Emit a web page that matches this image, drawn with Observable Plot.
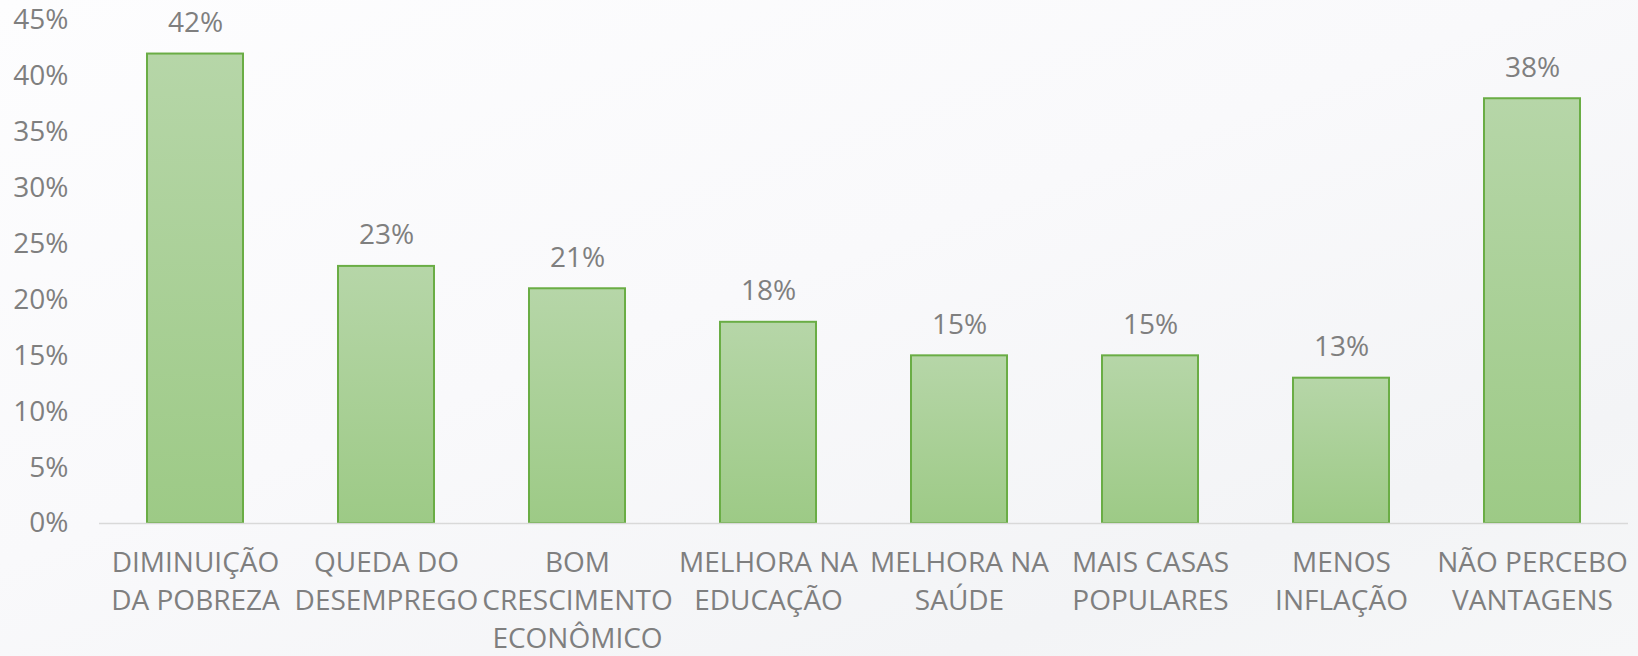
<!DOCTYPE html>
<html>
<head>
<meta charset="utf-8">
<script src="https://cdn.jsdelivr.net/npm/d3@7"></script>
<script src="https://cdn.jsdelivr.net/npm/@observablehq/plot@0.6"></script>
<style>
  html, body { margin: 0; padding: 0; }
  body {
    width: 1638px; height: 656px; overflow: hidden;
    background: linear-gradient(160deg, #fdfdfe 0%, #f9f9fb 45%, #f3f4f6 80%, #f6f7f8 100%);
    font-family: "Open Sans", sans-serif;
  }
  svg { display: block; background: transparent; }
</style>
</head>
<body>
<div id="chart"></div>
<script>
const categories = [
  "DIMINUIÇÃO\nDA POBREZA",
  "QUEDA DO\nDESEMPREGO",
  "BOM\nCRESCIMENTO\nECONÔMICO",
  "MELHORA NA\nEDUCAÇÃO",
  "MELHORA NA\nSAÚDE",
  "MAIS CASAS\nPOPULARES",
  "MENOS\nINFLAÇÃO",
  "NÃO PERCEBO\nVANTAGENS"
];
const values = [42, 23, 21, 18, 15, 15, 13, 38];
const yTicks = [0, 5, 10, 15, 20, 25, 30, 35, 40, 45];

const data = categories.map((c, i) => ({category: c, value: values[i]}));

const textColor = "#7f7f7f";

const chart = Plot.plot({
  width: 1638,
  height: 656,
  marginLeft: 99,
  marginRight: 10,
  marginTop: 20,
  marginBottom: 133,
  style: {fontFamily: "Open Sans, sans-serif", fontSize: "28px", color: textColor, background: "transparent"},
  x: {domain: categories, paddingInner: 0.5, paddingOuter: 0.25, axis: null},
  y: {domain: [0, 45], axis: null},
  marks: [
    () => {
      const ns = "http://www.w3.org/2000/svg";
      const defs = document.createElementNS(ns, "defs");
      defs.innerHTML = `<linearGradient id="barGrad" x1="0" y1="0" x2="0" y2="1">
          <stop offset="0%" stop-color="#b6d6a8"/>
          <stop offset="100%" stop-color="#9dca86"/>
        </linearGradient>`;
      return defs;
    },
    Plot.axisY(yTicks, {
      tickSize: 0, tickPadding: 31, tickFormat: d => d + "%",
      fill: textColor, fontSize: 28, label: null
    }),
    Plot.barY(data, {
      x: "category", y: "value",
      fill: "url(#barGrad)", stroke: "#6aad45", strokeWidth: 2
    }),
    Plot.ruleY([0], {stroke: "#d9d9d9", strokeWidth: 1.5}),
    Plot.text(data, {
      x: "category", y: "value", text: d => d.value + "%",
      dy: -31, lineAnchor: "middle", fill: textColor, fontSize: 28
    }),
    Plot.text(data, {
      x: "category", text: "category", frameAnchor: "bottom",
      dy: 21, lineAnchor: "top", lineHeight: 1.36, fill: textColor, fontSize: 28
    })
  ]
});
document.getElementById("chart").appendChild(chart);
</script>
</body>
</html>
